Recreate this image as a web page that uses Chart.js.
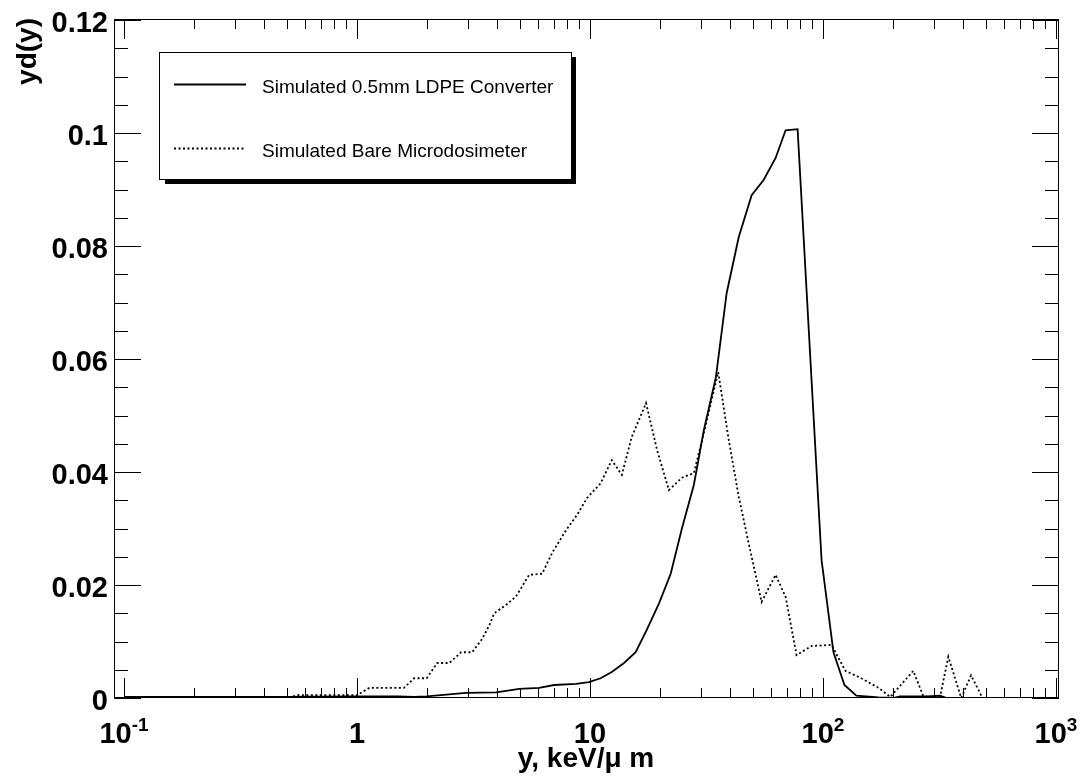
<!DOCTYPE html>
<html>
<head>
<meta charset="utf-8">
<script src="https://cdn.jsdelivr.net/npm/chart.js@4/dist/chart.umd.min.js"></script>
<style>
html,body{margin:0;padding:0;background:#fff;}
canvas{display:block;}
</style>
</head>
<body>
<canvas id="c" width="1082" height="780"></canvas>
<script>
// ---- Data ----
const seriesNames = ['Simulated 0.5mm LDPE Converter', 'Simulated Bare Microdosimeter'];

const ldpeX = [0.1, 0.5, 1.0, 1.5, 1.76, 1.99, 2.94, 3.96, 4.97, 6.05, 7.01, 8.71, 9.9, 11.1, 12.4, 14.0, 15.7, 17.5, 19.8, 22.2, 24.8, 27.9, 30.8, 34.7, 38.6, 43.5, 49.4, 55.6, 62.6, 69.1, 77.8, 98.6, 110.9, 123.6, 139, 173, 200, 214, 279, 318, 340, 486, 1000];
const ldpeY = [0.0002, 0.0002, 0.0003, 0.0003, 0.0002, 0.0003, 0.0009, 0.001, 0.0016, 0.0018, 0.0023, 0.0025, 0.0028, 0.0035, 0.0046, 0.0062, 0.0081, 0.012, 0.0168, 0.022, 0.030, 0.0377, 0.0474, 0.0568, 0.0717, 0.0816, 0.089, 0.0917, 0.0956, 0.1005, 0.1007, 0.0244, 0.0081, 0.0023, 0.0004, 0.0001, 0.0, 0.0003, 0.0003, 0.0004, 0.0, 0.0, 0.0];

const bareX = [0.51, 0.55, 1.0, 1.13, 1.59, 1.76, 1.99, 2.21, 2.49, 2.80, 3.12, 3.45, 3.70, 3.88, 4.37, 4.82, 5.48, 6.23, 6.88, 7.89, 8.80, 9.71, 11.1, 12.4, 13.7, 15.1, 17.4, 19.4, 21.8, 24.8, 27.9, 30.8, 35.5, 39.4, 43.5, 48.5, 54.5, 62.6, 69.1, 77.0, 89.3, 108.7, 124.8, 146, 173, 194.5, 244, 269, 292, 318, 345, 392, 432, 477, 486];
const bareY = [0.0, 0.0005, 0.0005, 0.0018, 0.0018, 0.0035, 0.0035, 0.0062, 0.0062, 0.0081, 0.0081, 0.0105, 0.0129, 0.015, 0.0165, 0.018, 0.0218, 0.022, 0.0257, 0.0297, 0.0324, 0.0354, 0.038, 0.0421, 0.0395, 0.0462, 0.0522, 0.0439, 0.0368, 0.039, 0.0398, 0.0469, 0.0577, 0.0457, 0.0356, 0.0265, 0.017, 0.0218, 0.0179, 0.0076, 0.0092, 0.0094, 0.0048, 0.0035, 0.0018, 0.0002, 0.0048, 0.0004, 0.0, 0.0002, 0.0073, 0.0, 0.004, 0.0005, 0.0];

const yTickValues = [0, 0.02, 0.04, 0.06, 0.08, 0.1, 0.12];
const yTickLabels = ['0', '0.02', '0.04', '0.06', '0.08', '0.1', '0.12'];
const xTickValues = [0.1, 1, 10, 100, 1000];
const xTickBase = ['10', '1', '10', '10', '10'];
const xTickExp = ['-1', '', '', '2', '3'];
const xTitle = 'y, keV/\u03bc m';
const yTitle = 'yd(y)';

function pts(xa, ya) { return xa.map((x, i) => ({x: x, y: ya[i]})); }

const FONT = '"Liberation Sans", Arial, Helvetica, sans-serif';

const framePlugin = {
  id: 'rootFrame',
  afterDraw(chart) {
    const ctx = chart.ctx;
    const xs = chart.scales.x, ys = chart.scales.y;
    const a = chart.chartArea;
    ctx.save();
    ctx.strokeStyle = '#000';
    ctx.lineWidth = 1;
    ctx.strokeRect(Math.round(a.left) + 0.5, Math.round(a.top) + 0.5, Math.round(a.right - a.left) - 1, Math.round(a.bottom - a.top) - 1);

    // x ticks (top and bottom, inward)
    ctx.beginPath();
    for (let d = -1; d <= 3; d++) {
      for (let m = 1; m <= 9; m++) {
        const v = m * Math.pow(10, d);
        if (v > xs.max) break;
        if (v < xs.min) continue;
        const px = Math.round(xs.getPixelForValue(v)) + 0.5;
        const len = (m === 1) ? 20 : 10;
        ctx.moveTo(px, a.bottom); ctx.lineTo(px, a.bottom - len);
        ctx.moveTo(px, a.top); ctx.lineTo(px, a.top + len);
      }
    }
    // y ticks (left and right, inward)
    for (let i = 0; i <= 24; i++) {
      const v = i * 0.005;
      const py = Math.round(ys.getPixelForValue(v)) + 0.5;
      const len = (i % 4 === 0) ? 27 : 14;
      ctx.moveTo(a.left, py); ctx.lineTo(a.left + len, py);
      ctx.moveTo(a.right, py); ctx.lineTo(a.right - len, py);
    }
    ctx.stroke();

    // y tick labels
    ctx.fillStyle = '#000';
    ctx.font = 'bold 29px ' + FONT;
    ctx.textAlign = 'right';
    ctx.textBaseline = 'middle';
    yTickValues.forEach((v, i) => {
      ctx.fillText(yTickLabels[i], a.left - 6, ys.getPixelForValue(v) + 4);
    });

    // x tick labels with superscripts
    ctx.textBaseline = 'alphabetic';
    ctx.textAlign = 'left';
    xTickValues.forEach((v, i) => {
      const px = xs.getPixelForValue(v);
      ctx.font = 'bold 29px ' + FONT;
      const wb = ctx.measureText(xTickBase[i]).width;
      ctx.font = 'bold 19px ' + FONT;
      const we = xTickExp[i] ? ctx.measureText(xTickExp[i]).width : 0;
      const x0 = px - (wb + we) / 2;
      ctx.font = 'bold 29px ' + FONT;
      ctx.fillText(xTickBase[i], x0, 743);
      if (xTickExp[i]) {
        ctx.font = 'bold 19px ' + FONT;
        ctx.fillText(xTickExp[i], x0 + wb, 731);
      }
    });

    // axis titles
    ctx.font = 'bold 28px ' + FONT;
    ctx.textAlign = 'center';
    ctx.fillText(xTitle, 586, 767);

    ctx.save();
    ctx.translate(36, 18);
    ctx.rotate(-Math.PI / 2);
    ctx.textAlign = 'right';
    ctx.fillText(yTitle, 0, 0);
    ctx.restore();

    // legend box with shadow
    ctx.fillStyle = '#000';
    ctx.fillRect(165, 57, 411, 127);
    ctx.fillStyle = '#fff';
    ctx.fillRect(159, 52, 413, 128);
    ctx.strokeStyle = '#000';
    ctx.lineWidth = 1;
    ctx.strokeRect(159.5, 52.5, 412, 127);

    const ds = chart.data.datasets;
    const rows = [84, 148];
    ds.forEach((d, i) => {
      ctx.beginPath();
      ctx.lineWidth = d.borderWidth;
      ctx.setLineDash(d.borderDash || []);
      ctx.moveTo(174, rows[i] + 0.5);
      ctx.lineTo(246, rows[i] + 0.5);
      ctx.stroke();
      ctx.setLineDash([]);
      ctx.fillStyle = '#000';
      ctx.font = '19px ' + FONT;
      ctx.textAlign = 'left';
      ctx.textBaseline = 'alphabetic';
      ctx.fillText(d.label, 262, rows[i] + 9);
    });
    ctx.restore();
  }
};

new Chart(document.getElementById('c'), {
  type: 'line',
  data: {
    datasets: [
      {label: seriesNames[0], data: pts(ldpeX, ldpeY), borderColor: '#000', borderWidth: 1.8, pointRadius: 0, tension: 0, fill: false},
      {label: seriesNames[1], data: pts(bareX, bareY), borderColor: '#000', borderWidth: 1.8, borderDash: [2, 2.5], pointRadius: 0, tension: 0, fill: false}
    ]
  },
  options: {
    responsive: false,
    animation: false,
    parsing: true,
    layout: {padding: {left: 114, top: 19, right: 23, bottom: 82}},
    plugins: {legend: {display: false}, tooltip: {enabled: false}},
    scales: {
      x: {type: 'logarithmic', min: 0.0906, max: 1030, display: false},
      y: {type: 'linear', min: 0, max: 0.1202, display: false}
    }
  },
  plugins: [framePlugin]
});
</script>
</body>
</html>
